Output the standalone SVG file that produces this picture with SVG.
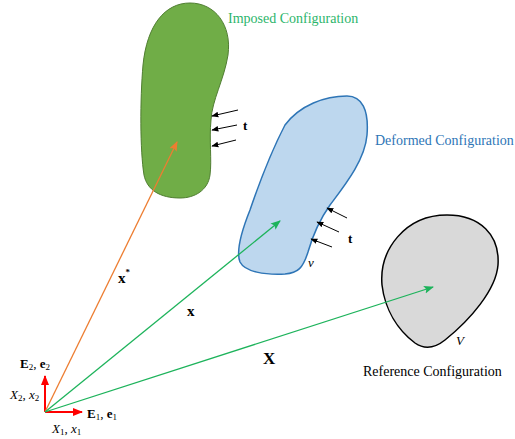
<svg xmlns="http://www.w3.org/2000/svg" width="515" height="439" viewBox="0 0 515 439">
<style>
text{font-family:"Liberation Serif","Times New Roman",serif;}
.lbl{font-size:13px;}
.cap{font-size:14px;}
.b{font-weight:bold;}
.i{font-style:italic;}
.trac{stroke:#000;stroke-width:1;fill:none;}
</style>
<defs>
<marker id="ak" viewBox="0 0 10 10" refX="9" refY="5" markerWidth="7" markerHeight="7" orient="auto" markerUnits="userSpaceOnUse"><path d="M0,1 L10,5 L0,9 Z" fill="#000"/></marker>
<marker id="ao" viewBox="0 0 10 10" refX="9" refY="5" markerWidth="10" markerHeight="10" orient="auto" markerUnits="userSpaceOnUse"><path d="M0,1 L10,5 L0,9 L2,5 Z" fill="#ed7d31"/></marker>
<marker id="ag" viewBox="0 0 10 10" refX="9" refY="5" markerWidth="10" markerHeight="10" orient="auto" markerUnits="userSpaceOnUse"><path d="M0,1 L10,5 L0,9 L2,5 Z" fill="#1db35b"/></marker>
<marker id="ar" viewBox="0 0 10 10" refX="9" refY="5" markerWidth="10" markerHeight="10" orient="auto" markerUnits="userSpaceOnUse"><path d="M0,1 L10,5 L0,9 Z" fill="#ff0000"/></marker>
</defs>
<g id="imposed">
<path d="M 190,3 C 215,3 232,25 228,55 C 224,80 212,100 211,120 C 209,140 212,160 210,175 C 208,190 195,198 180,198 C 160,198 147,190 144,175 C 140,150 140,100 143,65 C 147,25 165,3 190,3 Z" fill="#70ad47" stroke="#507e32" stroke-width="1"/>
<text x="228" y="23" class="cap" fill="#2cb56b">Imposed Configuration</text>
</g>
<g id="deformed">
<path d="M 347,96 C 362,96 369,110 367,135 C 365,160 345,185 330,205 C 318,222 312,238 308,252 C 303,268 298,273 285,274 C 265,275 245,272 240,262 C 236,252 242,230 250,210 C 262,175 272,150 285,125 C 300,105 325,96 347,96 Z" fill="#bdd7ee" stroke="#2e75b6" stroke-width="1.5"/>
<text x="375" y="145" class="cap" fill="#2e75b6">Deformed Configuration</text>
<text x="308" y="267" class="lbl i">v</text>
</g>
<g id="reference">
<path d="M 447,215 C 480,215 500,235 498,265 C 496,290 470,320 445,340 C 435,348 425,350 415,343 C 398,330 385,310 382,285 C 379,250 405,215 447,215 Z" fill="#d9d9d9" stroke="#000" stroke-width="1.5"/>
<text x="456" y="345" class="lbl i">V</text>
<text x="363" y="376" class="cap">Reference Configuration</text>
</g>
<g id="axes">
<line x1="45" y1="412" x2="45" y2="376" stroke="#ff0000" stroke-width="2" marker-end="url(#ar)"/>
<line x1="45" y1="412" x2="82" y2="412" stroke="#ff0000" stroke-width="2" marker-end="url(#ar)"/>
<text x="20" y="368" class="lbl"><tspan class="b">E</tspan><tspan font-size="9" dy="2">2</tspan><tspan dy="-2">, </tspan><tspan class="b">e</tspan><tspan font-size="9" dy="2">2</tspan></text>
<text x="10" y="399" class="lbl"><tspan class="i">X</tspan><tspan font-size="9" dy="2">2</tspan><tspan dy="-2">, </tspan><tspan class="i">x</tspan><tspan font-size="9" dy="2">2</tspan></text>
<text x="87" y="418" class="lbl"><tspan class="b">E</tspan><tspan font-size="9" dy="2">1</tspan><tspan dy="-2">, </tspan><tspan class="b">e</tspan><tspan font-size="9" dy="2">1</tspan></text>
<text x="52" y="433" class="lbl"><tspan class="i">X</tspan><tspan font-size="9" dy="2">1</tspan><tspan dy="-2">, </tspan><tspan class="i">x</tspan><tspan font-size="9" dy="2">1</tspan></text>
</g>
<g id="connectors">
<line x1="45" y1="412" x2="177" y2="142" stroke="#ed7d31" stroke-width="1.3" marker-end="url(#ao)"/>
<line x1="45" y1="412" x2="280" y2="221" stroke="#1db35b" stroke-width="1.3" marker-end="url(#ag)"/>
<line x1="45" y1="412" x2="433" y2="287" stroke="#1db35b" stroke-width="1.3" marker-end="url(#ag)"/>
<line class="trac" x1="238" y1="110" x2="212" y2="116" marker-end="url(#ak)"/>
<line class="trac" x1="237" y1="125" x2="212" y2="130" marker-end="url(#ak)"/>
<line class="trac" x1="236" y1="140" x2="212" y2="146" marker-end="url(#ak)"/>
<line class="trac" x1="347" y1="218" x2="327" y2="208" marker-end="url(#ak)"/>
<line class="trac" x1="339" y1="232" x2="317" y2="222" marker-end="url(#ak)"/>
<line class="trac" x1="332" y1="247" x2="311" y2="239" marker-end="url(#ak)"/>
</g>
<g id="labels">
<text x="243" y="130" class="lbl b">t</text>
<text x="348" y="243" class="lbl b">t</text>
<text x="118" y="283" font-size="15" class="b">x<tspan font-size="9" dy="-8">*</tspan></text>
<text x="187" y="316" font-size="15" class="b">x</text>
<text x="263" y="364" font-size="17" class="b">X</text>
</g>
</svg>
